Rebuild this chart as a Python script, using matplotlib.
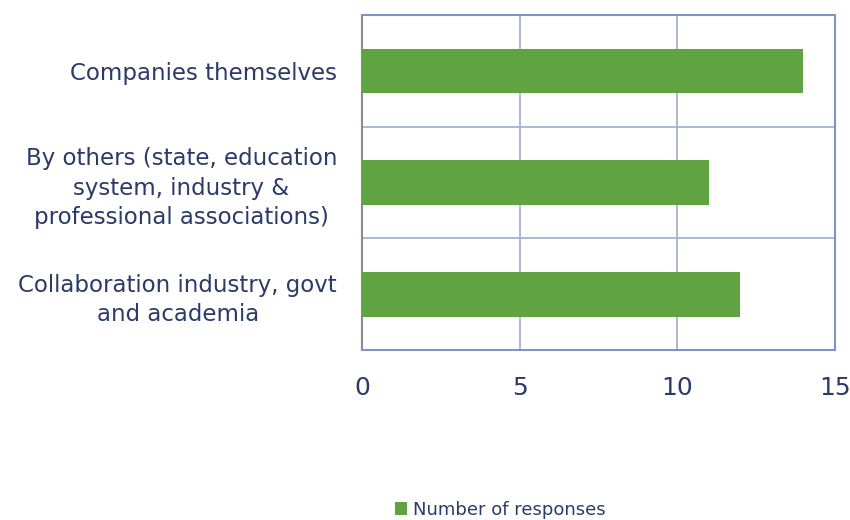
import numpy as np
import matplotlib.pyplot as plt

categories = [
    "Companies themselves",
    "By others (state, education\nsystem, industry &\nprofessional associations)",
    "Collaboration industry, govt\nand academia",
]
responses = [14, 11, 12]
xticks = [0, 5, 10, 15]

text_col = "#2b3a6b"
bar_col = "#5fa343"
frame_col = "#7d95c4"
grid_col = "#a3b3d3"

plt.rcParams['font.family'] = ['DejaVu Sans']

fig = plt.figure(figsize=(8.5, 5.2), dpi=100)
ax = fig.add_axes([362 / 850, 1 - 350 / 520, (835 - 362) / 850, (350 - 15) / 520])

y = np.arange(len(categories))
ax.barh(y, responses, height=0.4, color=bar_col, zorder=3, label="Number of responses")

ax.set_xlim(0, 15)
ax.set_ylim(len(categories) - 0.5, -0.5)
ax.set_xticks(xticks)
ax.set_xticklabels([str(v) for v in xticks], fontsize=18, color=text_col)
ax.set_yticks(y)
ax.set_yticklabels(categories, fontsize=16.5, color=text_col,
                   ha='right', multialignment='center', linespacing=1.35)
ax.tick_params(axis='both', length=0)
ax.tick_params(axis='x', pad=19)
ax.tick_params(axis='y', pad=18)

# gridlines: verticals at ticks, horizontals between categories
for v in xticks[1:-1]:
    ax.axvline(v, color=grid_col, lw=1.3, zorder=1)
for b in [0.5, 1.5]:
    ax.axhline(b, color=grid_col, lw=1.3, zorder=1)

for side in ['top', 'right', 'bottom']:
    ax.spines[side].set_color(frame_col)
    ax.spines[side].set_linewidth(1.5)
ax.spines['left'].set_color("#8a8a96")
ax.spines['left'].set_linewidth(1.5)

leg = fig.legend(loc='center', bbox_to_anchor=(500 / 850, 1 - 510 / 520),
                 frameon=False, fontsize=13, handlelength=0.7, handleheight=0.7,
                 handletextpad=0.3)
for t in leg.get_texts():
    t.set_color(text_col)

fig.savefig("out.png", dpi=100)
